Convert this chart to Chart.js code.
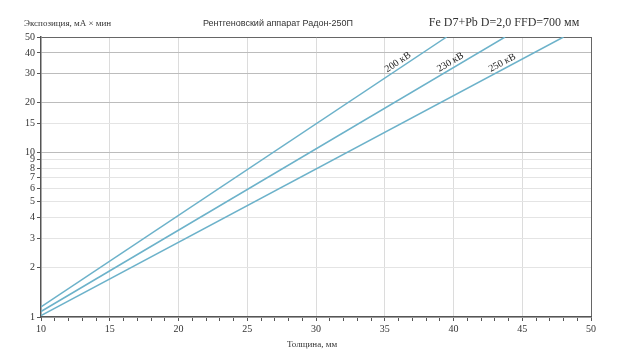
<!DOCTYPE html>
<html>
<head>
<meta charset="utf-8">
<script src="https://cdn.jsdelivr.net/npm/chart.js@4"></script>
<style>
  html, body { margin: 0; padding: 0; background: #fff; }
  #wrap { width: 624px; height: 358px; }
</style>
</head>
<body>
<div id="wrap"><canvas id="chart" width="624" height="358"></canvas></div>
<script>
// exposure chart, Radon-250P. straight lines on a log axis.

const seriesNames = ["200 кВ", "230 кВ", "250 кВ"];
// thickness (mm) at both ends of each line
const thickness200 = [10, 39.5];
const thickness230 = [10, 43.75];
const thickness250 = [10, 48];
// exposure (mA x min) at those points
const exposure200 = [1.15, 50];
const exposure230 = [1.08, 50];
const exposure250 = [1.02, 50];
// where along each line its label sits (mm)
const labelAt = [36.2, 40, 43.75];

const yTicks = [1, 2, 3, 4, 5, 6, 7, 8, 9, 10, 15, 20, 30, 40, 50];
const xMin = 10, xMax = 50;

const titleLeft = "Экспозиция, мА × мин";
const titleMid = "Рентгеновский аппарат Радон-250П";
const titleRight = "Fe D7+Pb D=2,0 FFD=700 мм";
const xTitle = "Толщина, мм";

const LINE = "#6cb2ca";
const SERIF = "'Liberation Serif', 'DejaVu Serif', serif";
const SANS = "'Liberation Sans', Arial, sans-serif";

function pts(xs, ys) {
  return xs.map((x, i) => ({ x, y: ys[i] }));
}

const datasets = [
  pts(thickness200, exposure200),
  pts(thickness230, exposure230),
  pts(thickness250, exposure250),
].map((data, i) => ({
  label: seriesNames[i],
  data,
  borderColor: LINE,
  borderWidth: 1.5,
  pointRadius: 0,
  fill: false,
  showLine: true,
}));

// header texts, axis title and the rotated kV labels
const textPlugin = {
  id: "texts",
  afterDatasetsDraw(chart) {
    const { ctx, scales } = chart;
    const xs = scales.x, ys = scales.y;
    ctx.save();
    ctx.fillStyle = "#333";
    ctx.textBaseline = "middle";

    ctx.font = "9px " + SERIF;
    ctx.textAlign = "left";
    ctx.fillText(titleLeft, 24, 24);

    ctx.font = "9px " + SANS;
    ctx.textAlign = "center";
    ctx.fillText(titleMid, 278, 24);

    ctx.font = "12px " + SERIF;
    ctx.fillText(titleRight, 504, 23);

    ctx.font = "9px " + SERIF;
    ctx.fillText(xTitle, 312, 345);

    // kV labels, parallel to their line, a few px above it
    ctx.fillStyle = "#222";
    ctx.font = "10px " + SERIF;
    chart.data.datasets.forEach((ds, i) => {
      const a = ds.data[0], b = ds.data[ds.data.length - 1];
      const x1 = xs.getPixelForValue(a.x), y1 = ys.getPixelForValue(a.y);
      const x2 = xs.getPixelForValue(b.x), y2 = ys.getPixelForValue(b.y);
      const ang = Math.atan2(y2 - y1, x2 - x1);
      const px = xs.getPixelForValue(labelAt[i]);
      const py = y1 + (px - x1) * (y2 - y1) / (x2 - x1);
      ctx.save();
      ctx.translate(px, py);
      ctx.rotate(ang);
      ctx.textAlign = "center";
      ctx.textBaseline = "bottom";
      ctx.fillText(ds.label, 0, -1);
      ctx.restore();
    });
    ctx.restore();
  },
};

new Chart(document.getElementById("chart"), {
  type: "line",
  data: { datasets },
  options: {
    responsive: false,
    animation: false,
    layout: { padding: { top: 37, right: 33, left: 0, bottom: 0 } },
    plugins: { legend: { display: false }, tooltip: { enabled: false } },
    scales: {
      x: {
        type: "linear",
        min: xMin,
        max: xMax,
        afterFit: (s) => { s.height = 41; },
        border: { color: "#555", width: 1.5 },
        grid: {
          color: (c) => {
            const v = c.tick && c.tick.value;
            if (v === xMax) return "#666";
            if (v % 5 === 0 && v !== xMin) return "#dcdcdc";
            return "rgba(0,0,0,0)";
          },
          tickColor: "#555",
          tickLength: 4,
        },
        ticks: {
          stepSize: 1,
          autoSkip: false,
          maxRotation: 0,
          padding: 2,
          color: "#333",
          font: { family: SERIF, size: 10 },
          callback: (v) => (v % 5 === 0 ? String(v) : ""),
        },
      },
      y: {
        type: "logarithmic",
        min: 1,
        max: 50,
        afterFit: (s) => { s.width = 41; },
        afterBuildTicks: (s) => { s.ticks = yTicks.map((v) => ({ value: v })); },
        border: { color: "#555", width: 1.5 },
        grid: {
          color: (c) => {
            const v = c.tick && c.tick.value;
            if (v === 50) return "#666";
            if (v === 10 || v === 20 || v === 30 || v === 40) return "#bcbcbc";
            return "#e4e4e4";
          },
          tickColor: "#555",
          tickLength: 4,
        },
        ticks: {
          padding: 2,
          color: "#333",
          font: { family: SERIF, size: 10 },
          callback: (v) => String(v),
        },
      },
    },
  },
  plugins: [textPlugin],
});
</script>
</body>
</html>
